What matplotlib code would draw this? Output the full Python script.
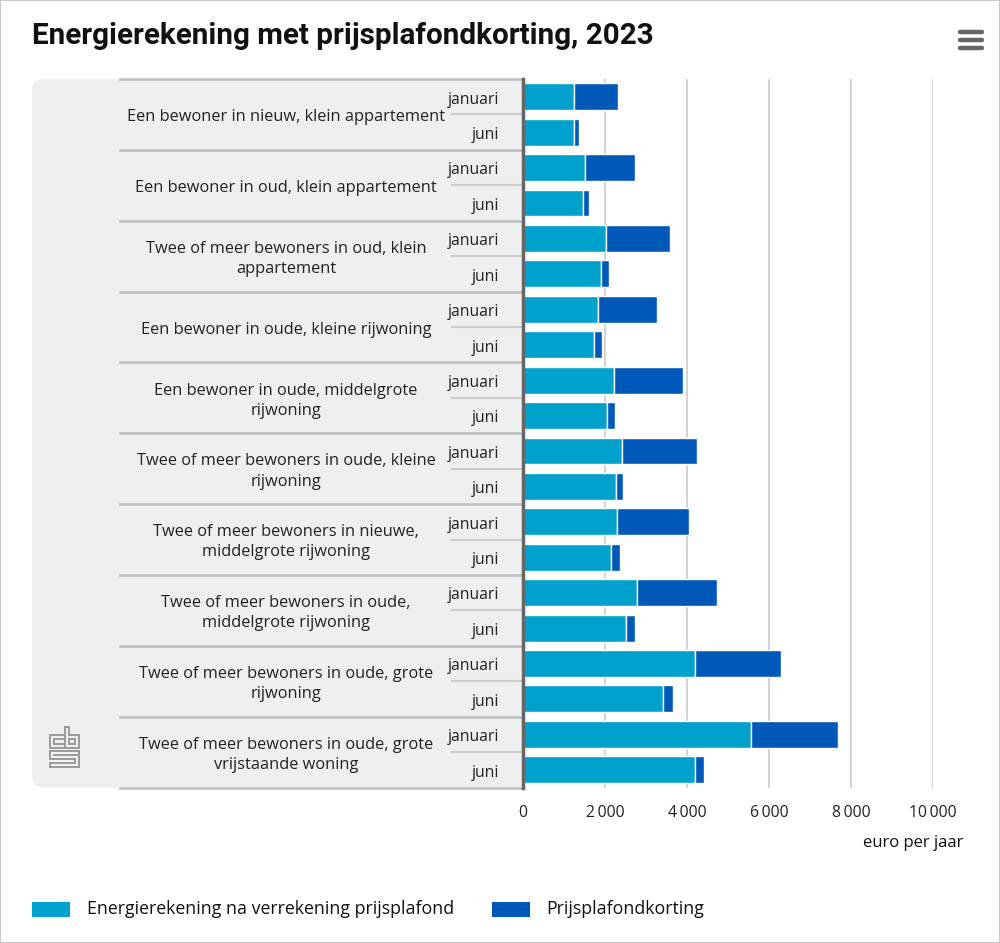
import matplotlib
matplotlib.use("Agg")
import matplotlib.pyplot as plt
from matplotlib.patches import FancyBboxPatch, Rectangle
from matplotlib.lines import Line2D
from matplotlib.transforms import blended_transform_factory
import numpy as np

# ---------------- data ----------------
groups = [
    "Een bewoner in nieuw, klein appartement",
    "Een bewoner in oud, klein appartement",
    "Twee of meer bewoners in oud, klein\nappartement",
    "Een bewoner in oude, kleine rijwoning",
    "Een bewoner in oude, middelgrote\nrijwoning",
    "Twee of meer bewoners in oude, kleine\nrijwoning",
    "Twee of meer bewoners in nieuwe,\nmiddelgrote rijwoning",
    "Twee of meer bewoners in oude,\nmiddelgrote rijwoning",
    "Twee of meer bewoners in oude, grote\nrijwoning",
    "Twee of meer bewoners in oude, grote\nvrijstaande woning",
]
months = ["januari", "juni"]

# Energierekening na verrekening prijsplafond (januari, juni per group)
rekening_jan = [1256, 1518, 2024, 1836, 2211, 2407, 2293, 2791, 4203, 5549]
rekening_jun = [1256, 1452, 1909, 1738, 2056, 2260, 2138, 2521, 3403, 4203]
# Prijsplafondkorting
korting_jan = [1070, 1224, 1558, 1444, 1681, 1828, 1754, 1942, 2097, 2122]
korting_jun = [107, 147, 188, 196, 188, 180, 220, 221, 253, 221]

series_names = ["Energierekening na verrekening prijsplafond", "Prijsplafondkorting"]
xticks = [0, 2000, 4000, 6000, 8000, 10000]
xtick_labels = ["0", "2\u2009000", "4\u2009000", "6\u2009000", "8\u2009000", "10\u2009000"]
xlabel = "euro per jaar"
title = "Energierekening met prijsplafondkorting, 2023"

LIGHT = "#00a1cd"
DARK = "#0058b8"
FONT = "Open Sans"

W, H = 1000, 943
fig = plt.figure(figsize=(W / 100, H / 100), dpi=100)

def fx(px):
    return px / W

def fy(py):
    return 1 - py / H

# outer border
fig.patches.append(Rectangle((0, 0), 1, 1, transform=fig.transFigure,
                             fill=False, edgecolor="#c8c8c8", linewidth=1.5))

# title
fig.text(fx(32), fy(36), title, fontsize=21.3, fontweight="bold", family="Roboto",
         color="#111111", va="center", ha="left")

# hamburger icon
for yy in (32, 40, 48):
    fig.add_artist(Line2D([fx(960), fx(982)], [fy(yy), fy(yy)], transform=fig.transFigure,
                          color="#666666", linewidth=3.2, solid_capstyle="round"))

# grey panel
top_px, bot_px = 79, 787.5
panel = FancyBboxPatch((fx(32), fy(bot_px)), fx(560) - fx(32), fy(top_px) - fy(bot_px),
                       boxstyle="round,pad=0,rounding_size=0.012", transform=fig.transFigure,
                       facecolor="#efefef", edgecolor="none", zorder=-5)
fig.patches.append(panel)

# axes
ax = fig.add_axes([fx(523), fy(bot_px), fx(933) - fx(523), fy(top_px) - fy(bot_px)])
ax.set_zorder(1)
ax.set_facecolor("white")

n = len(groups)
rek = []
kor = []
for i in range(n):
    rek += [rekening_jan[i], rekening_jun[i]]
    kor += [korting_jan[i], korting_jun[i]]
ypos = np.arange(2 * n)

ax.barh(ypos, rek, height=0.76, color=LIGHT, edgecolor="white", linewidth=1.0, zorder=3)
ax.barh(ypos, kor, left=rek, height=0.76, color=DARK, edgecolor="white", linewidth=1.0, zorder=3)

ax.set_xlim(0, 10000)
ax.set_ylim(2 * n - 0.5, -0.5)
ax.set_xticks(xticks)
ax.set_xticklabels([])
ax.set_yticks([])
ax.tick_params(axis="x", length=0)
ax.grid(axis="x", color="#cccccc", linewidth=1.2, zorder=0)
for s in ("top", "right", "bottom"):
    ax.spines[s].set_visible(False)
ax.spines["left"].set_color("#666666")
ax.spines["left"].set_linewidth(2.5)
ax.spines["left"].set_zorder(5)

# tick labels
tr_x = blended_transform_factory(ax.transData, fig.transFigure)
for v, lab in zip(xticks, xtick_labels):
    ax.text(v, fy(813), lab, transform=tr_x, ha="center", va="center",
            fontsize=11.3, family=[FONT, "DejaVu Sans"], color="#222222")
fig.text(fx(963), fy(843), xlabel, ha="right", va="center", fontsize=12,
         family=FONT, color="#111111")

# separator lines and labels
tr = blended_transform_factory(fig.transFigure, ax.transData)
for g in range(n + 1):
    yb = 2 * g - 0.5
    ax.add_line(Line2D([fx(120), fx(522)], [yb, yb], transform=tr, color="#bdbdbd",
                       linewidth=1.8, clip_on=False, zorder=2))
for g in range(n):
    ax.add_line(Line2D([fx(452), fx(522)], [2 * g + 0.5, 2 * g + 0.5], transform=tr,
                       color="#cccccc", linewidth=1.5, clip_on=False, zorder=2))
    ax.text(fx(286), 2 * g + 0.58, groups[g], transform=tr, ha="center", va="center",
            fontsize=11.8, family=FONT, color="#222222", linespacing=1.35, clip_on=False)
    for k, m in enumerate(months):
        ax.text(fx(499), 2 * g + k + 0.08, m, transform=tr, ha="right", va="center",
                fontsize=11.3, family=FONT, color="#222222", clip_on=False)

# CBS logo (approximation)
logo_col = "#9a9a9a"
def L(xs, ys, lw=1.4):
    fig.add_artist(Line2D([fx(x) for x in xs], [fy(y) for y in ys], transform=fig.transFigure,
                          color=logo_col, linewidth=lw, solid_joinstyle="miter"))
# c
L([63, 50, 50, 63], [735, 735, 748, 748])
L([63, 54, 54, 63], [739, 739, 744, 744])
# b
L([65, 65, 79, 79, 69, 69], [727, 748, 748, 735, 735, 727])
L([65, 69], [727, 727])
L([69, 69, 75, 75, 69], [739, 744, 744, 739, 739])
# s meander
L([79, 50, 50, 75, 75, 50, 50, 79, 79], [751, 751, 759, 759, 763, 763, 767, 767, 751])
L([54, 79], [755, 755])

# legend
fig.patches.append(Rectangle((fx(32), fy(917)), fx(70) - fx(32), fy(902) - fy(917),
                             transform=fig.transFigure, facecolor=LIGHT, edgecolor="none"))
fig.text(fx(87), fy(909), series_names[0], ha="left", va="center", fontsize=12.8,
         family=FONT, color="#111111")
fig.patches.append(Rectangle((fx(492), fy(917)), fx(530) - fx(492), fy(902) - fy(917),
                             transform=fig.transFigure, facecolor=DARK, edgecolor="none"))
fig.text(fx(546), fy(909), series_names[1], ha="left", va="center", fontsize=12.8,
         family=FONT, color="#111111")

fig.savefig("out.png", dpi=100, facecolor="white")
